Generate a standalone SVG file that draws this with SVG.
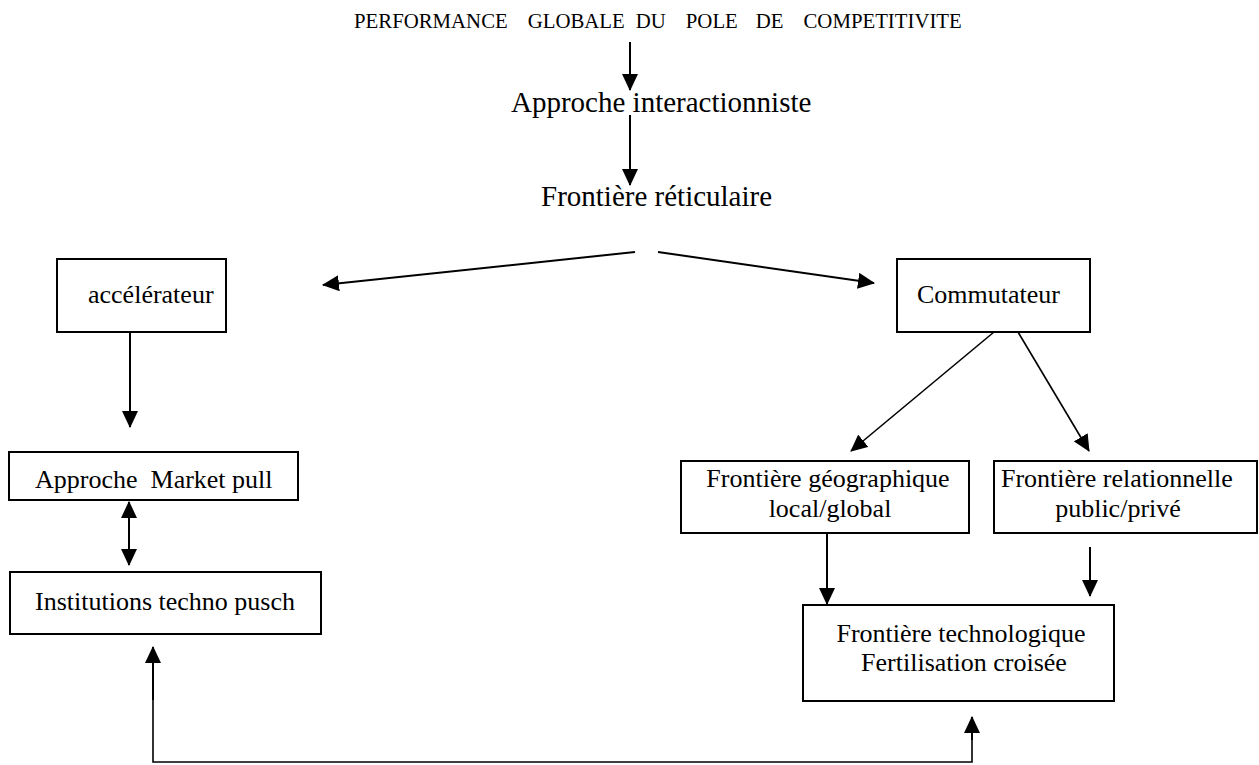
<svg xmlns="http://www.w3.org/2000/svg" width="1259" height="765" viewBox="0 0 1259 765">
  <style>
    text { font-family: "Liberation Serif", "Times New Roman", serif; fill: #000; }
    .title { font-size: 20.8px; }
    .big { font-size: 29px; }
    .lbl { font-size: 26px; }
    .box { fill: #fff; stroke: #000; stroke-width: 2; }
    .arr { stroke: #000; stroke-width: 2; fill: none; marker-end: url(#head); }
    .thin { stroke: #000; stroke-width: 1.6; fill: none; }
  </style>
  <defs>
    <marker id="head" markerUnits="userSpaceOnUse" markerWidth="17" markerHeight="16" refX="16" refY="8" orient="auto-start-reverse">
      <path d="M0,0 L17,8 L0,16 Z" fill="#000"/>
    </marker>
  </defs>
  <rect width="1259" height="765" fill="#fff"/>

  <!-- heading and stacked labels -->
  <g id="n-performance">
    <text class="title" y="28"><tspan x="354">PERFORMANCE</tspan><tspan x="527.7">GLOBALE</tspan><tspan x="635.8">DU</tspan><tspan x="685.8">POLE</tspan><tspan x="755.8">DE</tspan><tspan x="803.5">COMPETITIVITE</tspan></text>
  </g>
  <g id="n-interactionniste">
    <text class="big" x="511" y="112">Approche interactionniste</text>
  </g>
  <g id="n-reticulaire">
    <text class="big" x="541" y="206">Frontière réticulaire</text>
  </g>

  <!-- boxed nodes -->
  <g id="n-accelerateur">
    <rect class="box" x="57" y="259" width="169" height="73"/>
    <text class="lbl" x="88" y="303">accélérateur</text>
  </g>
  <g id="n-commutateur">
    <rect class="box" x="897" y="259" width="193" height="73"/>
    <text class="lbl" x="917" y="303">Commutateur</text>
  </g>
  <g id="n-market">
    <rect class="box" x="9" y="452" width="289" height="48"/>
    <text class="lbl" x="35" y="488" xml:space="preserve">Approche  Market pull</text>
  </g>
  <g id="n-institutions">
    <rect class="box" x="10" y="572" width="311" height="62"/>
    <text class="lbl" x="35" y="610">Institutions techno pusch</text>
  </g>
  <g id="n-geographique">
    <rect class="box" x="681" y="461" width="288" height="72"/>
    <text class="lbl" x="828" y="487" text-anchor="middle">Frontière géographique</text>
    <text class="lbl" x="830" y="517" text-anchor="middle">local/global</text>
  </g>
  <g id="n-relationnelle">
    <rect class="box" x="994" y="461" width="263" height="72"/>
    <text class="lbl" x="1001" y="487">Frontière relationnelle</text>
    <text class="lbl" x="1118" y="517" text-anchor="middle">public/privé</text>
  </g>
  <g id="n-technologique">
    <rect class="box" x="803" y="605" width="311" height="96"/>
    <text class="lbl" x="961" y="642" text-anchor="middle">Frontière technologique</text>
    <text class="lbl" x="964" y="671" text-anchor="middle">Fertilisation croisée</text>
  </g>

  <!-- connectors -->
  <g id="connectors">
    <line class="arr" x1="630" y1="42" x2="630" y2="90"/>
    <line class="arr" x1="630" y1="115" x2="630" y2="185"/>
    <line class="arr" x1="635" y1="252" x2="323" y2="285"/>
    <line class="arr" x1="658" y1="252" x2="874" y2="283"/>
    <line class="arr" x1="130" y1="332" x2="130" y2="427"/>
    <line class="arr" x1="129" y1="502" x2="129" y2="565" style="marker-start: url(#head)"/>
    <line class="arr" x1="994" y1="332" x2="851" y2="451" style="stroke-width:1.6"/>
    <line class="arr" x1="1018" y1="332" x2="1089" y2="451" style="stroke-width:1.6"/>
    <line class="arr" x1="827" y1="533" x2="827" y2="604"/>
    <line class="arr" x1="1090" y1="547" x2="1090" y2="596"/>
    <polyline class="thin" points="153,663 153,762 972,762 972,733"/>
    <line class="arr" x1="153" y1="700" x2="153" y2="647"/>
    <line class="arr" x1="972" y1="740" x2="972" y2="717"/>
  </g>
</svg>
